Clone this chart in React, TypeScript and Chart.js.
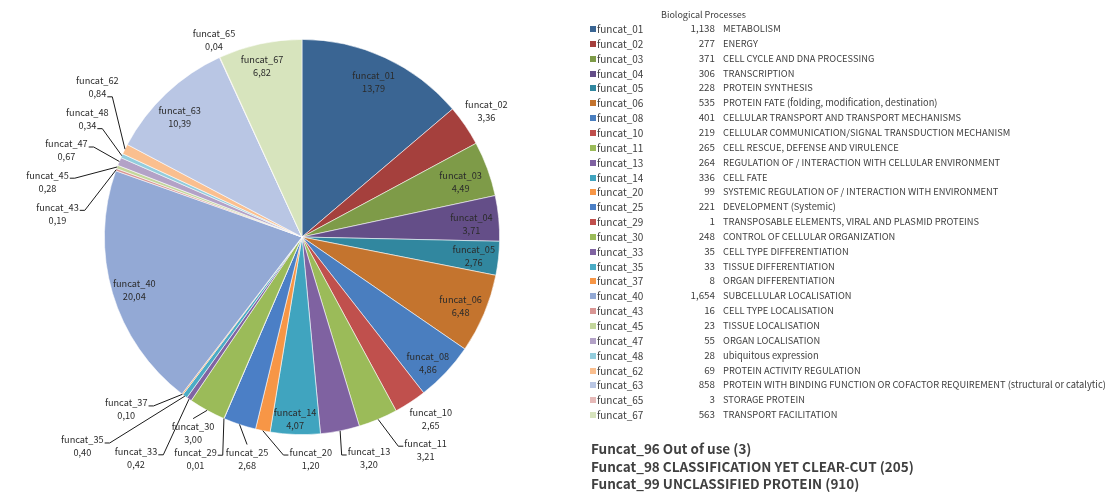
import React, { useEffect, useRef } from "react";
import { Chart, registerables } from "chart.js";

Chart.register(...registerables);

// ---------------- data ----------------
const categories = [
  "funcat_01", "funcat_02", "funcat_03", "funcat_04", "funcat_05", "funcat_06",
  "funcat_08", "funcat_10", "funcat_11", "funcat_13", "funcat_14", "funcat_20",
  "funcat_25", "funcat_29", "funcat_30", "funcat_33", "funcat_35", "funcat_37",
  "funcat_40", "funcat_43", "funcat_45", "funcat_47", "funcat_48", "funcat_62",
  "funcat_63", "funcat_65", "funcat_67",
];

const counts = [
  1138, 277, 371, 306, 228, 535, 401, 219, 265, 264, 336, 99, 221, 1, 248, 35,
  33, 8, 1654, 16, 23, 55, 28, 69, 858, 3, 563,
];

const percents = [
  13.79, 3.36, 4.49, 3.71, 2.76, 6.48, 4.86, 2.65, 3.21, 3.2, 4.07, 1.2, 2.68,
  0.01, 3.0, 0.42, 0.4, 0.1, 20.04, 0.19, 0.28, 0.67, 0.34, 0.84, 10.39, 0.04,
  6.82,
];

const descriptions = [
  "METABOLISM",
  "ENERGY",
  "CELL CYCLE AND DNA PROCESSING",
  "TRANSCRIPTION",
  "PROTEIN SYNTHESIS",
  "PROTEIN FATE (folding, modification, destination)",
  "CELLULAR TRANSPORT AND TRANSPORT MECHANISMS",
  "CELLULAR COMMUNICATION/SIGNAL TRANSDUCTION MECHANISM",
  "CELL RESCUE, DEFENSE AND VIRULENCE",
  "REGULATION OF / INTERACTION WITH CELLULAR ENVIRONMENT",
  "CELL FATE",
  "SYSTEMIC REGULATION OF / INTERACTION WITH ENVIRONMENT",
  "DEVELOPMENT (Systemic)",
  "TRANSPOSABLE ELEMENTS, VIRAL AND PLASMID PROTEINS",
  "CONTROL OF CELLULAR ORGANIZATION",
  "CELL TYPE DIFFERENTIATION",
  "TISSUE DIFFERENTIATION",
  "ORGAN DIFFERENTIATION",
  "SUBCELLULAR LOCALISATION",
  "CELL TYPE LOCALISATION",
  "TISSUE LOCALISATION",
  "ORGAN LOCALISATION",
  "ubiquitous expression",
  "PROTEIN ACTIVITY REGULATION",
  "PROTEIN WITH BINDING FUNCTION OR COFACTOR REQUIREMENT (structural or catalytic)",
  "STORAGE PROTEIN",
  "TRANSPORT FACILITATION",
];

const legendTitle = "Biological Processes";

const notes = [
  "Funcat_96 Out of use (3)",
  "Funcat_98 CLASSIFICATION YET CLEAR-CUT (205)",
  "Funcat_99 UNCLASSIFIED PROTEIN (910)",
];

// ---------------- styles ----------------
const colors = [
  "#3A6593", "#A5403D", "#7E9B48", "#644E88", "#31879F", "#C4742E",
  "#4A7EBF", "#C0504D", "#9BBB59", "#7F62A1", "#40A4BF", "#F79646",
  "#4B7FC6", "#C0504D", "#9BBB59", "#8064A2", "#4BACC6", "#F79646",
  "#93A9D5", "#D99694", "#C3D69B", "#B3A2C7", "#93CDDD", "#FABF8F",
  "#B9C6E4", "#E6B9B8", "#D7E4BD",
];

// label placement: [radius factor, angle shift in degrees, leader anchor]
// anchor: "" none, "l1" left of line 1, "r1"/"r2" right of line 1/2, "t" top centre
const placement: [number, number, string][] = [
  [0.863, 0, ""], [1.13, 0, ""], [0.85, 1, ""], [0.86, 1, ""], [0.874, 0, ""],
  [0.875, 0.6, ""], [0.9, 1.7, ""], [1.127, -2.1, ""], [1.245, -7.5, "l1"],
  [1.171, -5.7, "l1"], [0.92, 0.2, ""], [1.122, -13.7, "l1"], [1.155, -4.5, "t"],
  [1.245, 2.4, "r1"], [1.133, 0.4, "t"], [1.4, 2.0, "r1"], [1.536, 10.0, "r1"],
  [1.246, 8.3, "r1"], [0.89, -1.0, ""], [1.243, -14.5, "r1"], [1.318, -8.5, "r1"],
  [1.27, -2.3, "r1"], [1.239, 4.5, "r2"], [1.283, 9.8, "r2"], [0.868, -2.1, ""],
  [1.09, 0.5, ""], [0.887, -0.9, ""],
];

const FONT = '"Noto Sans CJK KR", "Noto Sans", sans-serif';

const labelPlugin = {
  id: "sliceLabels",
  afterDraw(chart: any) {
    const ctx = chart.ctx as CanvasRenderingContext2D;
    const meta = chart.getDatasetMeta(0);
    ctx.save();
    ctx.font = `9.2px ${FONT}`;
    ctx.textAlign = "center";
    ctx.textBaseline = "middle";
    meta.data.forEach((arc: any, i: number) => {
      const p = arc.getProps(["x", "y", "startAngle", "endAngle", "outerRadius"], true);
      const mid = (p.startAngle + p.endAngle) / 2;
      const [f, shift, anchor] = placement[i];
      const a = mid + (shift * Math.PI) / 180;
      const lx = p.x + f * p.outerRadius * Math.cos(a);
      const ly = p.y + f * p.outerRadius * Math.sin(a);
      const line1 = categories[i];
      const line2 = percents[i].toFixed(2).replace(".", ",");
      const y1 = ly - 6.5;
      const y2 = ly + 6.5;
      ctx.fillStyle = "#2b2b2b";
      ctx.fillText(line1, lx, y1);
      ctx.fillText(line2, lx, y2);
      if (anchor) {
        const px = p.x + p.outerRadius * Math.cos(mid);
        const py = p.y + p.outerRadius * Math.sin(mid);
        const w1 = ctx.measureText(line1).width;
        const w2 = ctx.measureText(line2).width;
        ctx.beginPath();
        ctx.strokeStyle = "#1a1a1a";
        ctx.lineWidth = 1;
        if (anchor === "t") {
          ctx.moveTo(lx, ly - 14);
          ctx.lineTo(px, py);
        } else {
          const right = anchor[0] === "r";
          const w = anchor[1] === "1" ? w1 : w2;
          const yy = (anchor[1] === "1" ? y1 : y2) + 3;
          const ax = right ? lx + w / 2 + 1 : lx - w / 2 - 1;
          const ex = right ? ax + 5 : ax - 5;
          ctx.moveTo(ax, yy);
          ctx.lineTo(ex, yy);
          ctx.lineTo(px, py);
        }
        ctx.stroke();
      }
    });
    ctx.restore();
  },
};

function PieCanvas() {
  const ref = useRef<HTMLCanvasElement>(null);
  useEffect(() => {
    if (!ref.current) return;
    const chart = new Chart(ref.current, {
      type: "pie",
      data: {
        labels: categories,
        datasets: [
          {
            data: counts,
            backgroundColor: colors,
            borderColor: "rgba(255,255,255,0.7)",
            borderWidth: 0.8,
          },
        ],
      },
      options: {
        responsive: false,
        animation: false,
        layout: { padding: { left: 104, top: 39, right: 614, bottom: 61 } },
        plugins: {
          legend: { display: false },
          tooltip: { enabled: false },
          title: { display: false },
        },
      },
      plugins: [labelPlugin],
    });
    return () => chart.destroy();
  }, []);
  return (
    <canvas
      ref={ref}
      width={1114}
      height={496}
      style={{ position: "absolute", left: 0, top: 0, width: 1114, height: 496 }}
    />
  );
}

const ROW0 = 29;
const ROWSTEP = 14.85;

export default function App() {
  const txt: React.CSSProperties = {
    position: "absolute",
    whiteSpace: "nowrap",
    lineHeight: "1",
    transform: "translateY(-50%)",
    fontFamily: FONT,
    color: "#404040",
  };
  return (
    <div
      style={{
        position: "fixed",
        left: 0,
        top: 0,
        width: 1114,
        height: 496,
        background: "#ffffff",
        overflow: "hidden",
      }}
    >
      <PieCanvas />
      <div style={{ ...txt, left: 661, top: 14, fontSize: 9 }}>{legendTitle}</div>
      {categories.map((c, i) => {
        const y = ROW0 + i * ROWSTEP;
        return (
          <React.Fragment key={c}>
            <div
              style={{
                position: "absolute",
                left: 590,
                top: y - 3,
                width: 6,
                height: 6,
                background: colors[i],
              }}
            />
            <div style={{ ...txt, left: 597, top: y, fontSize: 10 }}>{c}</div>
            <div style={{ ...txt, right: 1114 - 715, top: y, fontSize: 9.8, textAlign: "right" }}>
              {counts[i].toLocaleString("en-US")}
            </div>
            <div style={{ ...txt, left: 723, top: y, fontSize: 9.3 }}>{descriptions[i]}</div>
          </React.Fragment>
        );
      })}
      {notes.map((n, i) => (
        <div
          key={n}
          style={{ ...txt, left: 591, top: 449 + i * 17.5, fontSize: 13.5, fontWeight: 700 }}
        >
          {n}
        </div>
      ))}
    </div>
  );
}
